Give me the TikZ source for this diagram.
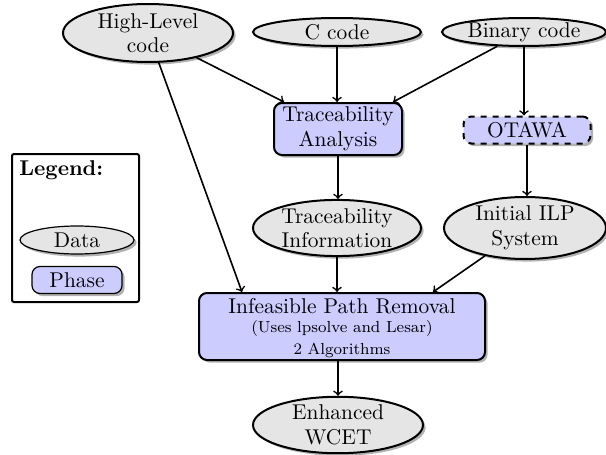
\documentclass[tikz,border=0pt]{standalone}
\usetikzlibrary{shapes.geometric,shadows}
\begin{document}
\begin{tikzpicture}[x=0.5pt,y=-0.5pt,
  every node/.style={font=\fontsize{10.7}{12.3}\selectfont},
  shd/.style={drop shadow={shadow xshift=1.3pt,shadow yshift=-1.3pt,fill=black!60,opacity=.5}},
  data/.style={ellipse, draw, line width=1pt, fill=gray!20, shd, inner sep=0pt, align=center},
  phase/.style={rectangle, rounded corners=4pt, draw, line width=1pt, fill=blue!20, shd, inner sep=0pt, align=center},
  arr/.style={->, thick}]
\useasboundingbox (0,0) rectangle (606,455);

\node[data, minimum width=85pt, minimum height=29pt] (hl) at (148,33) {High-Level\\code};
\node[data, minimum width=84pt, minimum height=14pt] (cc) at (337,32) {C code};
\node[data, minimum width=82pt, minimum height=14pt] (bc) at (524,32) {Binary code};

\node[phase, minimum width=64pt, minimum height=26pt] (ta) at (338,129) {Traceability\\Analysis};
\node[phase, dashed, minimum width=63.5pt, minimum height=13.5pt] (ot) at (527,130) {OTAWA};

\node[data, minimum width=84pt, minimum height=28pt] (ti) at (337,228) {Traceability\\Information};
\node[data, minimum width=81pt, minimum height=30pt] (ilp) at (525,228) {Initial ILP\\System};

\node[phase, minimum width=143pt, minimum height=33.5pt, text depth=0pt] (ipr) at (342,326.5) {Infeasible Path Removal\\[-3pt]{\footnotesize (Uses lpsolve and Lesar)}\\[-1.5pt]{\footnotesize 2 Algorithms}};

\node[data, minimum width=85pt, minimum height=28pt] (ew) at (338,425) {Enhanced\\WCET};

% legend
\node[draw, line width=1pt, rounded corners=1pt, minimum width=63.5pt, minimum height=74pt, inner sep=0pt] (leg) at (75.5,228) {};
\node[anchor=west, inner sep=0pt, font=\fontsize{10.7}{12.3}\selectfont\bfseries] (legt) at (19,170) {Legend:};
\node[data, line width=0.6pt, minimum width=57pt, minimum height=14pt] (ld) at (77,240) {Data};
\node[phase, line width=0.6pt, minimum width=45pt, minimum height=13.5pt] (lp) at (77,280) {Phase};

% connectors
\draw[arr] (hl) -- ([xshift=22pt]ipr.north west);
\draw[arr] (hl) -- ([xshift=5.5pt]ta.north west);
\draw[arr] (cc) -- (cc |- ta.north);
\draw[arr] (bc) -- ([xshift=-5pt]ta.north east);
\draw[arr] (bc) -- (bc |- ot.north);
\draw[arr] (ta) -- (ta |- ti.north);
\draw[arr] (ot) -- (ot |- ilp.north);
\draw[arr] (ti) -- (ti |- ipr.north);
\draw[arr] (ilp) -- ([xshift=-26.5pt]ipr.north east);
\draw[arr] (ew |- ipr.south) -- (ew);
\end{tikzpicture}
\end{document}
